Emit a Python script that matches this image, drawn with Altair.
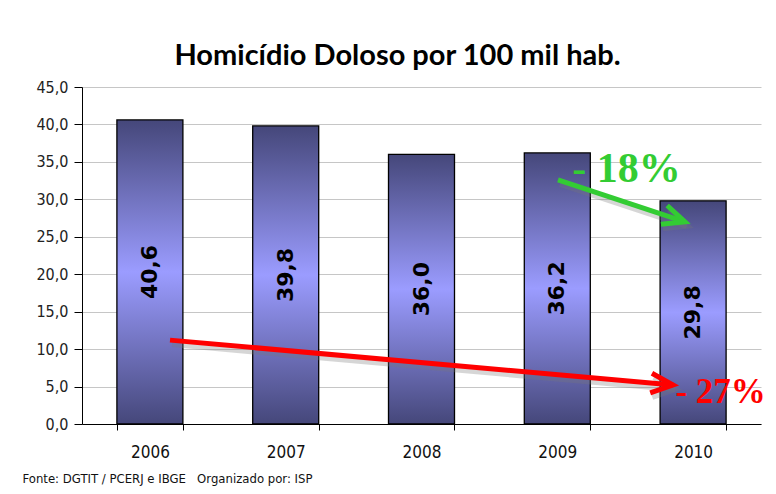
import math
import altair as alt
import pandas as pd

# ---------------- data ----------------
years = ["2006", "2007", "2008", "2009", "2010"]
rates = [40.6, 39.8, 36.0, 36.2, 29.8]
rate_labels = ["40,6", "39,8", "36,0", "36,2", "29,8"]
y_ticks = [0, 5, 10, 15, 20, 25, 30, 35, 40, 45]

title_text = "Homicídio Doloso por 100 mil hab."
source_text = "Fonte: DGTIT / PCERJ e IBGE\u00a0\u00a0\u00a0Organizado por: ISP"

# annotation arrows (x in band units 0..5, y in data units)
arrow_texts = ["- 18%", "- 27%"]
arrow_x0 = [3.505, 0.648]
arrow_y0 = [32.6, 11.2]
arrow_x1 = [4.44, 4.352]
arrow_y1 = [27.0, 5.2]
arrow_text_x = [3.61, 4.37]
arrow_text_y = [32.3, 2.8]
arrow_colors = ["#33cc33", "#ff0000"]
arrow_font_sizes = [42, 35]

W, H = 679, 337
Y_MAX = 45
N_CAT = len(years)

LABEL_FONT = "DejaVu Sans Condensed, DejaVu Sans"

df = pd.DataFrame({"year": years, "rate": rates, "label": rate_labels})

y_scale = alt.Scale(domain=[0, Y_MAX], nice=False, zero=True)
x_band_scale = alt.Scale(paddingInner=0.514, paddingOuter=0.257)

grad = alt.Gradient(
    gradient="linear",
    stops=[
        alt.GradientStop(color="#45477a", offset=0),
        alt.GradientStop(color="#9b9cff", offset=0.5),
        alt.GradientStop(color="#45477a", offset=1),
    ],
    x1=0, x2=0, y1=0, y2=1,
)

x_axis = alt.Axis(
    title=source_text,
    titleFont=LABEL_FONT,
    titleFontSize=13,
    titleFontWeight="normal",
    titleColor="#111",
    titleX=-60,
    titleY=54,
    titleAlign="left",
    titleBaseline="middle",
    labelAngle=0,
    labelFont=LABEL_FONT,
    labelFontSize=17,
    labelColor="#111",
    labelPadding=14,
    tickBand="extent",
    tickSize=6,
    tickColor="black",
    domainColor="black",
    domainWidth=1,
    grid=False,
)

y_axis = alt.Axis(
    values=y_ticks,
    format=".1f",
    labelExpr="replace(datum.label, '.', ',')",
    title=None,
    grid=True,
    gridColor="#c6c6c6",
    gridWidth=1,
    domainColor="black",
    tickColor="black",
    tickSize=8,
    labelFont=LABEL_FONT,
    labelFontSize=16,
    labelColor="#222",
    labelPadding=6,
)

bars = alt.Chart(df).mark_bar(
    color=grad, stroke="black", strokeWidth=1.3
).encode(
    x=alt.X("year:N", scale=x_band_scale, axis=x_axis, sort=years),
    y=alt.Y("rate:Q", scale=y_scale, axis=y_axis),
)

bar_text = alt.Chart(df).transform_calculate(
    mid="datum.rate / 2"
).mark_text(
    angle=270, align="center", baseline="middle",
    font="DejaVu Sans", fontWeight="bold", fontSize=22, color="black",
).encode(
    x=alt.X("year:N", scale=x_band_scale, sort=years, axis=None),
    y=alt.Y("mid:Q", scale=y_scale, axis=y_axis),
    text="label:N",
)

layers = [bars, bar_text]

px_per_x = W / N_CAT
px_per_y = H / Y_MAX
ann_x_scale = alt.Scale(domain=[0, N_CAT], nice=False, zero=False)

for i in range(len(arrow_texts)):
    adf = pd.DataFrame({
        "x0": [arrow_x0[i]], "y0": [arrow_y0[i]],
        "x1": [arrow_x1[i]], "y1": [arrow_y1[i]],
        "tx": [arrow_text_x[i]], "ty": [arrow_text_y[i]],
        "txt": [arrow_texts[i]],
    })
    ang = math.degrees(math.atan2((arrow_y0[i] - arrow_y1[i]) * px_per_y,
                                  (arrow_x1[i] - arrow_x0[i]) * px_per_x))
    ang = ang % 360
    col = arrow_colors[i]
    enc_line = dict(
        x=alt.X("x0:Q", scale=ann_x_scale, axis=None),
        x2="x1:Q",
        y=alt.Y("y0:Q", scale=y_scale, axis=y_axis),
        y2="y1:Q",
    )
    enc_head = dict(
        x=alt.X("x1:Q", scale=ann_x_scale, axis=None),
        y=alt.Y("y1:Q", scale=y_scale, axis=y_axis),
    )
    shadow_line = alt.Chart(adf).mark_rule(
        color="#777777", opacity=0.3, strokeWidth=6, strokeCap="butt",
        xOffset=2, yOffset=4, x2Offset=2, y2Offset=4,
    ).encode(**enc_line)
    shadow_head = alt.Chart(adf).mark_point(
        shape="M-1,-0.45L0,0L-1,0.45", size=(2 * 22) ** 2, filled=False,
        stroke="#777777", strokeWidth=6, opacity=0.3, angle=ang,
        strokeJoin="miter", xOffset=2, yOffset=4,
    ).encode(**enc_head)
    line = alt.Chart(adf).mark_rule(
        color=col, strokeWidth=5, strokeCap="butt"
    ).encode(**enc_line)
    head = alt.Chart(adf).mark_point(
        shape="M-1,-0.45L0,0L-1,0.45", size=(2 * 22) ** 2, filled=False,
        stroke=col, strokeWidth=5, opacity=1, angle=ang, strokeJoin="miter",
    ).encode(**enc_head)
    txt = alt.Chart(adf).mark_text(
        align="left", baseline="alphabetic", font="Liberation Serif",
        fontWeight="bold", fontSize=arrow_font_sizes[i], color=col,
    ).encode(
        x=alt.X("tx:Q", scale=ann_x_scale, axis=None),
        y=alt.Y("ty:Q", scale=y_scale, axis=y_axis),
        text="txt:N",
    )
    layers += [shadow_line, shadow_head, line, head, txt]

chart = alt.layer(*layers).resolve_scale(x="independent").properties(
    width=W,
    height=H,
    title=alt.TitleParams(
        title_text, font="Lato", fontSize=29, fontWeight="bold",
        color="black", anchor="middle", dx=-24, offset=8,
    ),
    padding={"left": 74, "top": 79, "right": 7, "bottom": 62},
    autosize=alt.AutoSizeParams(type="none"),
    background="white",
).configure_view(stroke=None)

chart.save("out.html", embed_options={"renderer": "svg", "actions": False})
